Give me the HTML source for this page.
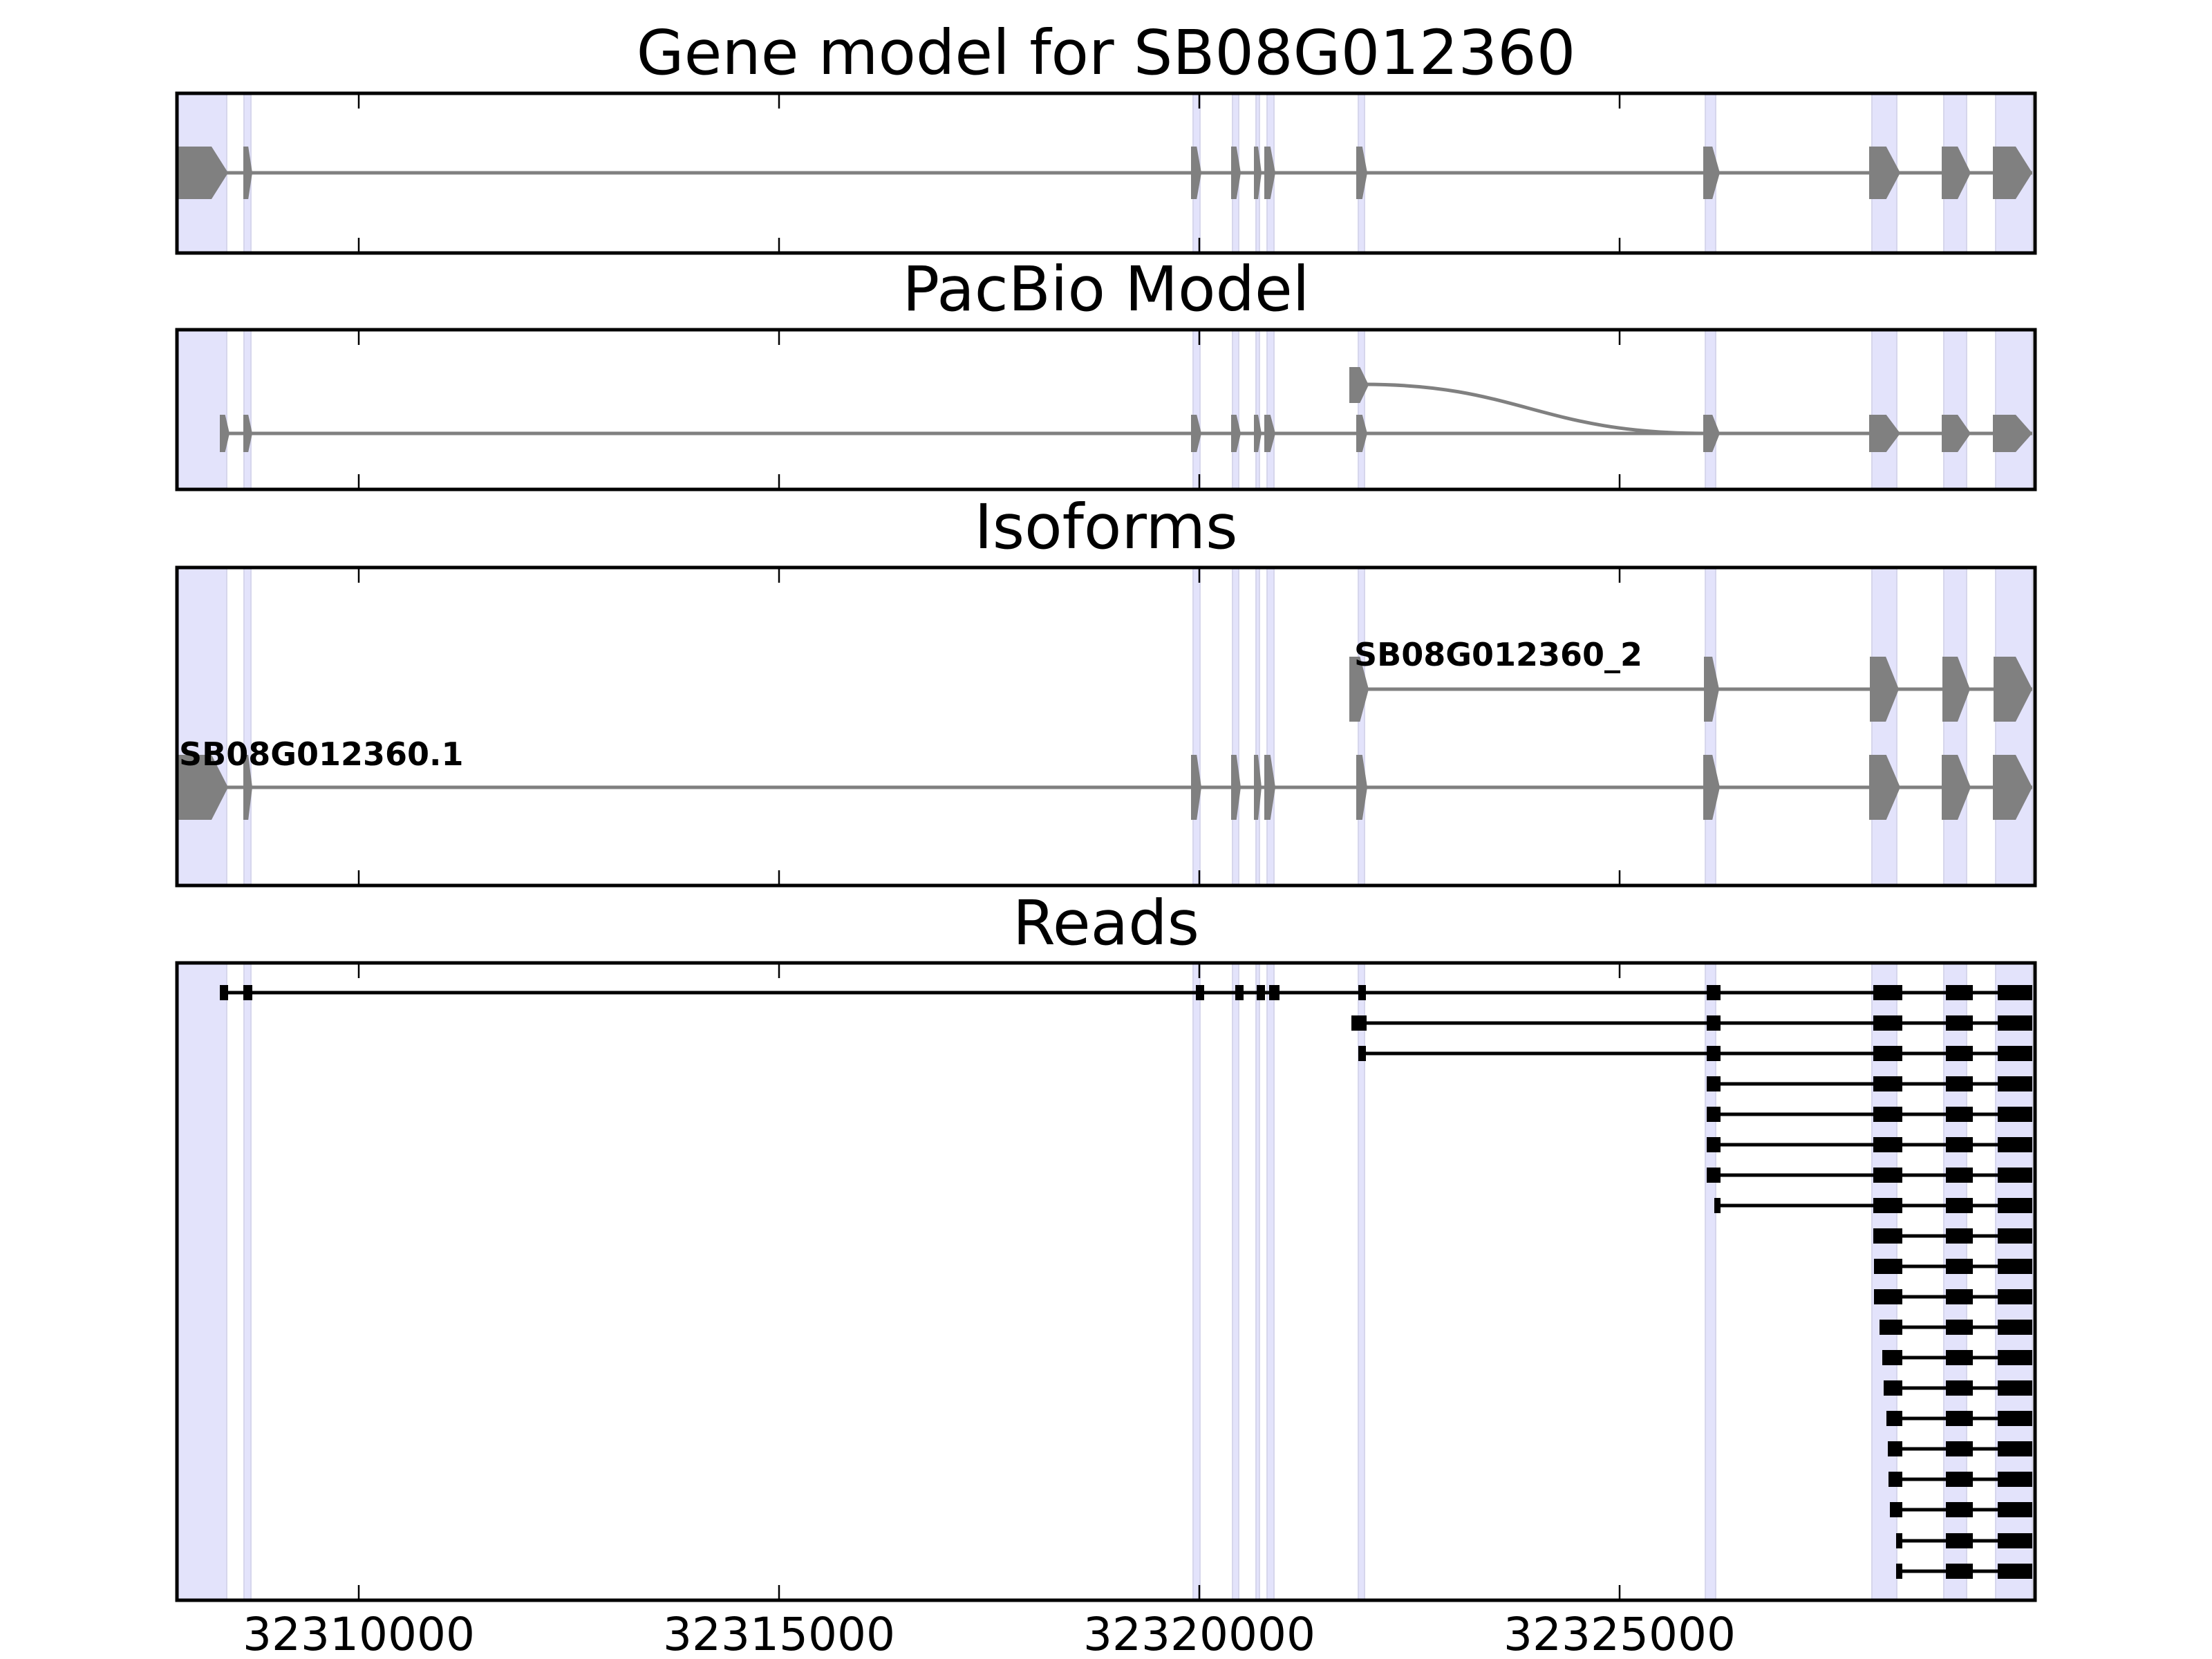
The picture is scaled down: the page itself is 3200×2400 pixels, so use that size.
<!DOCTYPE html>
<html><head><meta charset="utf-8"><style>
html,body{margin:0;padding:0;background:#fff;}
svg{display:block;}
text{font-family:"DejaVu Sans","Liberation Sans",sans-serif;}
</style></head><body>
<svg id="s" width="3200" height="2400" viewBox="0 0 3200 2400" xmlns="http://www.w3.org/2000/svg">
<rect width="3200" height="2400" fill="#fff"/>
<g id="bands"></g>
<g id="shapes"></g>
<g id="axes"></g>
<text x="1600" y="107" font-size="89" text-anchor="middle">Gene model for SB08G012360</text>
<text x="1600" y="449" font-size="89" text-anchor="middle">PacBio Model</text>
<text x="1600" y="793" font-size="89" text-anchor="middle">Isoforms</text>
<text x="1600" y="1366" font-size="89" text-anchor="middle">Reads</text>
<text x="1959" y="963" font-size="46" font-weight="bold">SB08G012360_2</text>
<text x="259" y="1107" font-size="46" font-weight="bold">SB08G012360.1</text>
<text x="519" y="2387" font-size="66" text-anchor="middle">32310000</text>
<text x="1127" y="2387" font-size="66" text-anchor="middle">32315000</text>
<text x="1735" y="2387" font-size="66" text-anchor="middle">32320000</text>
<text x="2343" y="2387" font-size="66" text-anchor="middle">32325000</text>
</svg>
<script>
var NS="http://www.w3.org/2000/svg";
function el(p,t,a){var e=document.createElementNS(NS,t);for(var k in a)e.setAttribute(k,a[k]);document.getElementById(p).appendChild(e);return e;}
var L=256,R=2944;
var panels=[[135,366],[477,708],[821,1281],[1393,2315]];
var bands=[[256,328],[353,363],[1726,1736],[1783,1792],[1817,1822],[1833,1843],[1965,1974],[2467,2482],[2708,2744],[2812,2845],[2887,2940]];
panels.forEach(function(p){bands.forEach(function(b){
 el("bands","rect",{x:b[0],y:p[0],width:b[1]-b[0],height:p[1]-p[0],fill:"#e3e3fb",stroke:"#d6d6ec","stroke-width":2});});});
panels.forEach(function(p){
 el("axes","rect",{x:L,y:p[0],width:R-L,height:p[1]-p[0],fill:"none",stroke:"#000","stroke-width":5});
 [519,1127,1735,2343].forEach(function(x){
  el("axes","line",{x1:x,x2:x,y1:p[0],y2:p[0]+22,stroke:"#000","stroke-width":2.5});
  el("axes","line",{x1:x,x2:x,y1:p[1],y2:p[1]-22,stroke:"#000","stroke-width":2.5});});
});
function ex(x0,x1,cy,h,col){var w=x1-x0,t=Math.min(w*0.45,24);
 var pts=[[x0,cy-h/2],[x1-t,cy-h/2],[x1,cy],[x1-t,cy+h/2],[x0,cy+h/2]].map(function(a){return a.join(",")}).join(" ");
 el("shapes","polygon",{points:pts,fill:col});}
function track(ex_,cy,h){
 el("shapes","line",{x1:ex_[0][0],x2:ex_[ex_.length-1][1],y1:cy,y2:cy,stroke:"#808080","stroke-width":5});
 ex_.forEach(function(e){ex(e[0],e[1],cy,h,"#808080");});}
var gm=[[256,330],[352,365],[1723,1738],[1781,1795],[1814,1825],[1829,1845],[1962,1978],[2464,2488],[2704,2749],[2809,2851],[2883,2940]];
track(gm,250,76);
var pb=[[318,332]].concat(gm.slice(1));
track(pb,627,54);
el("shapes","path",{d:"M1973,556 C2198,556 2228,627 2468,627",fill:"none",stroke:"#808080","stroke-width":5});
ex(1952,1980,557,52,"#808080");
track([[1952,1980],[2465,2487],[2705,2747],[2810,2850],[2884,2940]],997,94);
track(gm,1139,94);
var rows=[1436,1480,1524,1568,1612,1656,1700,1744,1788,1832,1876,1920,1964,2008,2052,2096,2140,2184,2229,2273];
var tail=[[2710,2752],[2815,2854],[2890,2940]];
var firsts=[
 [[318,330],[352,365],[1730,1742],[1787,1799],[1818,1830],[1836,1851],[1965,1976],[2469,2489]],
 [[1955,1977],[2469,2489]],
 [[1965,1976],[2469,2489]],
 [[2469,2489]],[[2469,2489]],[[2469,2489]],[[2469,2489]],
 [[2480,2489]]];
var starts=[2710,2711,2711,2719,2723,2725,2729,2731,2732,2734,2743,2743];
rows.forEach(function(y,i){
 var es;
 if(i<8) es=firsts[i].concat(tail);
 else es=[[starts[i-8],2752]].concat(tail.slice(1));
 el("shapes","line",{x1:es[0][0],x2:es[es.length-1][1],y1:y,y2:y,stroke:"#000","stroke-width":5});
 es.forEach(function(e){el("shapes","rect",{x:e[0],y:y-11,width:e[1]-e[0],height:22,fill:"#000"});});
});
</script>
</body></html>
